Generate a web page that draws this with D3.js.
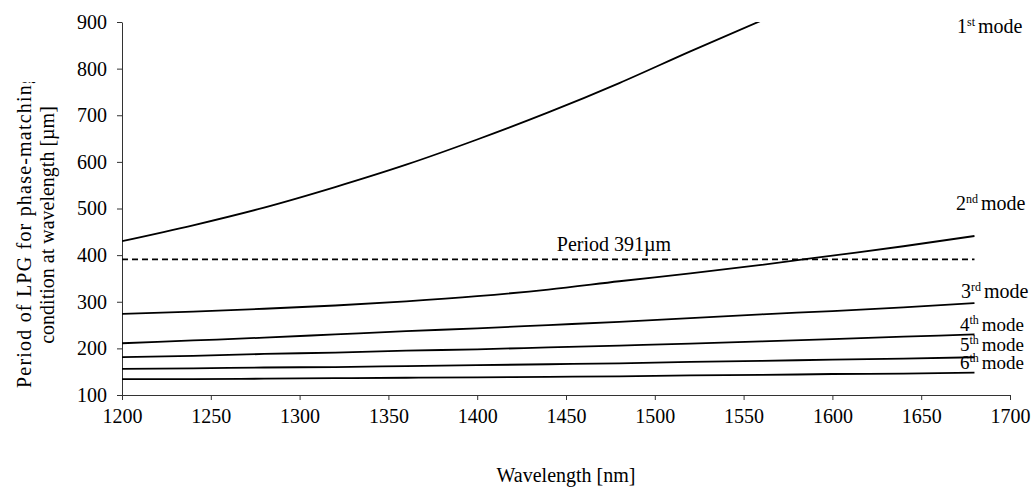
<!DOCTYPE html>
<html>
<meta charset="utf-8">
<style>
  body { margin: 0; background: #fff; }
  svg {
    width: 1032px;
    height: 487px;
    font-family: "Liberation Serif", "Times New Roman", serif;
  }
  svg text { font-family: "Liberation Serif", "Times New Roman", serif; fill: #000; }
</style>

<body>
  <svg></svg>
</body>

<script src="https://d3js.org/d3.v7.min.js"></script>

<script>

  // data (wavelength in nm, period in um)
  var wavelengths = [1200, 1240, 1280, 1320, 1360, 1400, 1440, 1480, 1520, 1560, 1600, 1640, 1680];
  var mode1Wavelengths = [1200, 1240, 1280, 1320, 1360, 1400, 1440, 1480, 1520, 1560];
  var mode1 = [430, 464, 502, 546, 594, 648, 706, 769, 837, 903];
  var mode2 = [274, 279, 285, 292, 301, 312, 326, 344, 361, 379, 399, 419, 441];
  var mode3 = [211, 217, 223, 230, 237, 243, 250, 257, 265, 273, 280, 288, 297];
  var mode4 = [181, 184, 188, 191, 195, 198, 202, 206, 210, 215, 220, 225, 230];
  var mode5 = [156, 157, 159, 160, 162, 164, 166, 168, 171, 173, 176, 178, 181];
  var mode6 = [134, 134, 135, 136, 137, 138, 139, 140, 142, 143, 145, 146, 148];

  var periodValue = 391;
  var periodRange = [1200, 1680];
  var periodLabel = "Period 391\u00b5m";

  var modeNumbers = ["1", "2", "3", "4", "5", "6"];
  var modeSuffixes = ["st", "nd", "rd", "th", "th", "th"];

  var xTicks = [1200, 1250, 1300, 1350, 1400, 1450, 1500, 1550, 1600, 1650, 1700];
  var yTicks = [100, 200, 300, 400, 500, 600, 700, 800, 900];

  var margin = {top: 22, right: 22, bottom: 92, left: 122},
      width = 1032 - margin.left - margin.right,
      height = 487 - margin.top - margin.bottom;

  var svg = d3.select("svg");
  var g = svg.append("g").attr("transform", "translate(" + margin.left + "," + margin.top + ")");

  var x = d3.scaleLinear().domain([1200, 1700]).range([0, width]);
  var y = d3.scaleLinear().domain([100, 900]).range([height, 0]);

  g.append("clipPath").attr("id", "plot")
    .append("rect").attr("width", width).attr("height", height + 1);

  // axes
  var xAxis = g.append("g")
    .attr("transform", "translate(0," + height + ")")
    .call(d3.axisBottom(x).tickValues(xTicks).tickFormat(d3.format("d"))
      .tickSize(5).tickSizeOuter(0).tickPadding(9));
  var yAxis = g.append("g")
    .call(d3.axisLeft(y).tickValues(yTicks).tickFormat(d3.format("d"))
      .tickSize(5).tickSizeOuter(0).tickPadding(10));

  [xAxis, yAxis].forEach(function(a) {
    a.attr("font-family", null).attr("font-size", null);
    a.selectAll("path, line").attr("stroke", "#333");
    a.selectAll("text").style("font-size", "20px");
  });

  // curves
  var series = [
    {xs: mode1Wavelengths, ys: mode1},
    {xs: wavelengths, ys: mode2},
    {xs: wavelengths, ys: mode3},
    {xs: wavelengths, ys: mode4},
    {xs: wavelengths, ys: mode5},
    {xs: wavelengths, ys: mode6}
  ];

  var line = d3.line()
    .x(function(d) { return x(d[0]); })
    .y(function(d) { return y(d[1]); })
    .curve(d3.curveMonotoneX);

  g.append("g").attr("clip-path", "url(#plot)")
    .selectAll("path")
    .data(series)
    .enter().append("path")
      .attr("d", function(s) { return line(s.xs.map(function(w, i) { return [w, s.ys[i]]; })); })
      .attr("fill", "none")
      .attr("stroke", "#000")
      .attr("stroke-width", 1.8);

  // dashed period line
  g.append("line")
    .attr("x1", x(periodRange[0])).attr("x2", x(periodRange[1]))
    .attr("y1", y(periodValue)).attr("y2", y(periodValue))
    .attr("stroke", "#000")
    .attr("stroke-width", 1.8)
    .attr("stroke-dasharray", "6,4");

  g.append("text")
    .attr("x", x(1477)).attr("y", y(periodValue) - 8)
    .attr("text-anchor", "middle")
    .style("font-size", "20px")
    .text(periodLabel);

  // mode labels (baselines in px), 4th-6th sit tightly stacked like the original
  var labelY = [33, 210, 298, 331, 351, 369];
  var labelX = [957, 956, 961, 960, 960, 960];

  modeNumbers.forEach(function(n, i) {
    var t = svg.append("text")
      .attr("x", labelX[i]).attr("y", labelY[i])
      .style("font-size", i >= 3 ? "19px" : "20px");
    t.append("tspan").text(n);
    t.append("tspan").style("font-size", "12px").attr("dy", -7).text(modeSuffixes[i]);
    t.append("tspan").attr("dy", 7).attr("dx", 3).text("mode");
  });

  // axis titles (first line is cut off at the top as in the original)
  svg.append("clipPath").attr("id", "ytitle")
    .append("rect").attr("x", 0).attr("y", 82).attr("width", 120).attr("height", 400);

  var yt = svg.append("g").attr("clip-path", "url(#ytitle)");
  yt.append("text")
    .attr("transform", "translate(31,231) rotate(-90)")
    .attr("text-anchor", "middle")
    .attr("textLength", 314)
    .attr("lengthAdjust", "spacing")
    .style("font-size", "20px")
    .text("Period of LPG for phase-matching");
  yt.append("text")
    .attr("transform", "translate(54,225) rotate(-90)")
    .attr("text-anchor", "middle")
    .style("font-size", "20px")
    .text("condition at wavelength [\u00b5m]");

  svg.append("text")
    .attr("x", 566).attr("y", 482)
    .attr("text-anchor", "middle")
    .style("font-size", "20px")
    .text("Wavelength [nm]");

</script>

</html>
